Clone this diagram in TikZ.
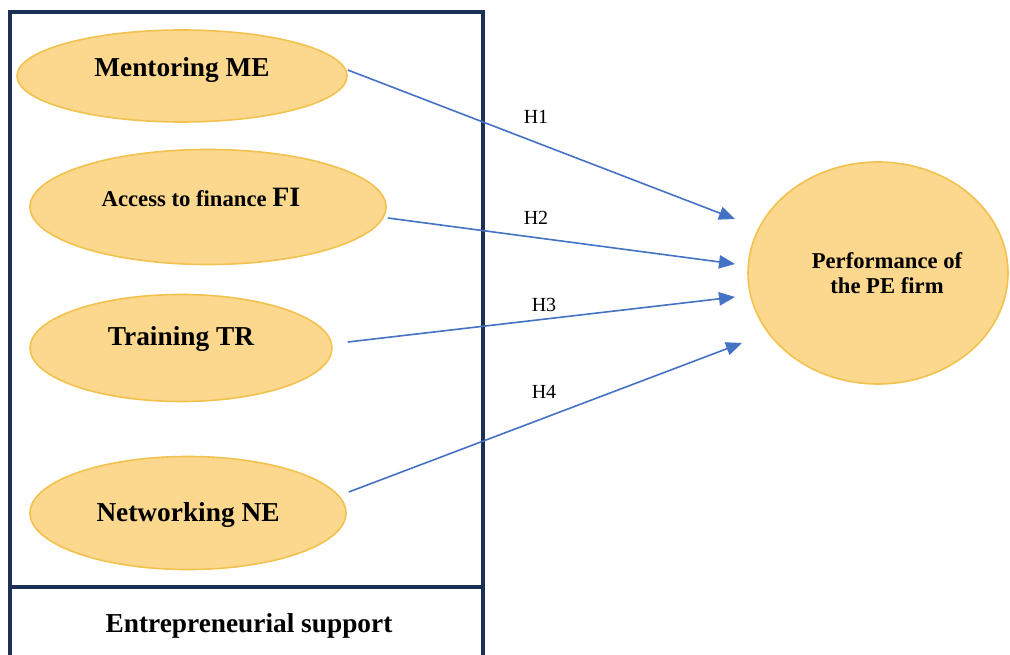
\documentclass[tikz,border=0pt]{standalone}
\usepackage{fontspec}
\setmainfont{Liberation Serif}
\usetikzlibrary{shapes.geometric,arrows.meta}
\definecolor{navy}{HTML}{1C2F55}
\definecolor{ellfill}{HTML}{FCD88E}
\definecolor{elldraw}{HTML}{F2C14E}
\definecolor{arrblue}{HTML}{4472C4}
\tikzset{
  ell/.style={ellipse, draw=elldraw, fill=ellfill, line width=1.2pt, inner sep=0pt},
  lbl/.style={font=\bfseries, text=black, inner sep=0pt, anchor=center},
  hyp/.style={draw=arrblue, line width=1.2pt, -{Triangle[length=12pt,width=10pt]}},
  hlab/.style={font=\fontsize{15}{18}\selectfont, inner sep=0pt}
}
\begin{document}
\begin{tikzpicture}[x=0.75pt,y=-0.75pt]
\useasboundingbox (0,0) rectangle (1010,655);
\fill[white] (0,0) rectangle (1010,655);
% outer box
\draw[navy, line width=2.5pt] (10,12) rectangle (483,670);
\draw[navy, line width=2.5pt] (10,587) -- (483,587);
\node[lbl, font=\bfseries\fontsize{20.5}{24}\selectfont] (es) at (249,626) {Entrepreneurial support};
% ellipses
\node[ell, minimum width=247.5pt, minimum height=69pt] (me) at (182,76) {};
\node[ell, minimum width=267pt, minimum height=86.25pt] (fi) at (208,207) {};
\node[ell, minimum width=226.5pt, minimum height=80.25pt] (tr) at (181,348) {};
\node[ell, minimum width=237pt, minimum height=84.75pt] (ne) at (188,513) {};
\node[ell, minimum width=195pt, minimum height=166.5pt] (pe) at (878,273) {};
% texts
\node[lbl, font=\bfseries\fontsize{20.5}{24}\selectfont] (meT) at (182,70) {Mentoring ME};
\node[lbl, font=\bfseries\fontsize{17}{20}\selectfont] (fiT) at (201,197) {Access to finance {\fontsize{21}{24}\selectfont FI}};
\node[lbl, font=\bfseries\fontsize{20.5}{24}\selectfont] (trT) at (181,339) {Training TR};
\node[lbl, font=\bfseries\fontsize{20.5}{24}\selectfont] (neT) at (188,515) {Networking NE};
\node[lbl, font=\bfseries\fontsize{17}{20}\selectfont, align=center] (peT) at (887,273) {Performance of\\[-1pt]the PE firm};
% arrow ends
\coordinate (e1) at (735,219);
\coordinate (e2) at (735,264);
\coordinate (e3) at (735,297);
\coordinate (e4) at (742,343);
\draw[hyp] (me.east) ++(0,-6) -- (e1);
\draw[hyp] (fi.east) ++(1,11) -- (e2);
\draw[hyp] (tr.east) ++(15,-6) -- (e3);
\draw[hyp] (ne.east) ++(2,-21) -- (e4);
% labels
\node[hlab] (h1) at (536,117) {H1};
\node[hlab] (h2) at (536,218) {H2};
\node[hlab] (h3) at (544,305) {H3};
\node[hlab] (h4) at (544,392) {H4};
\end{tikzpicture}
\end{document}
